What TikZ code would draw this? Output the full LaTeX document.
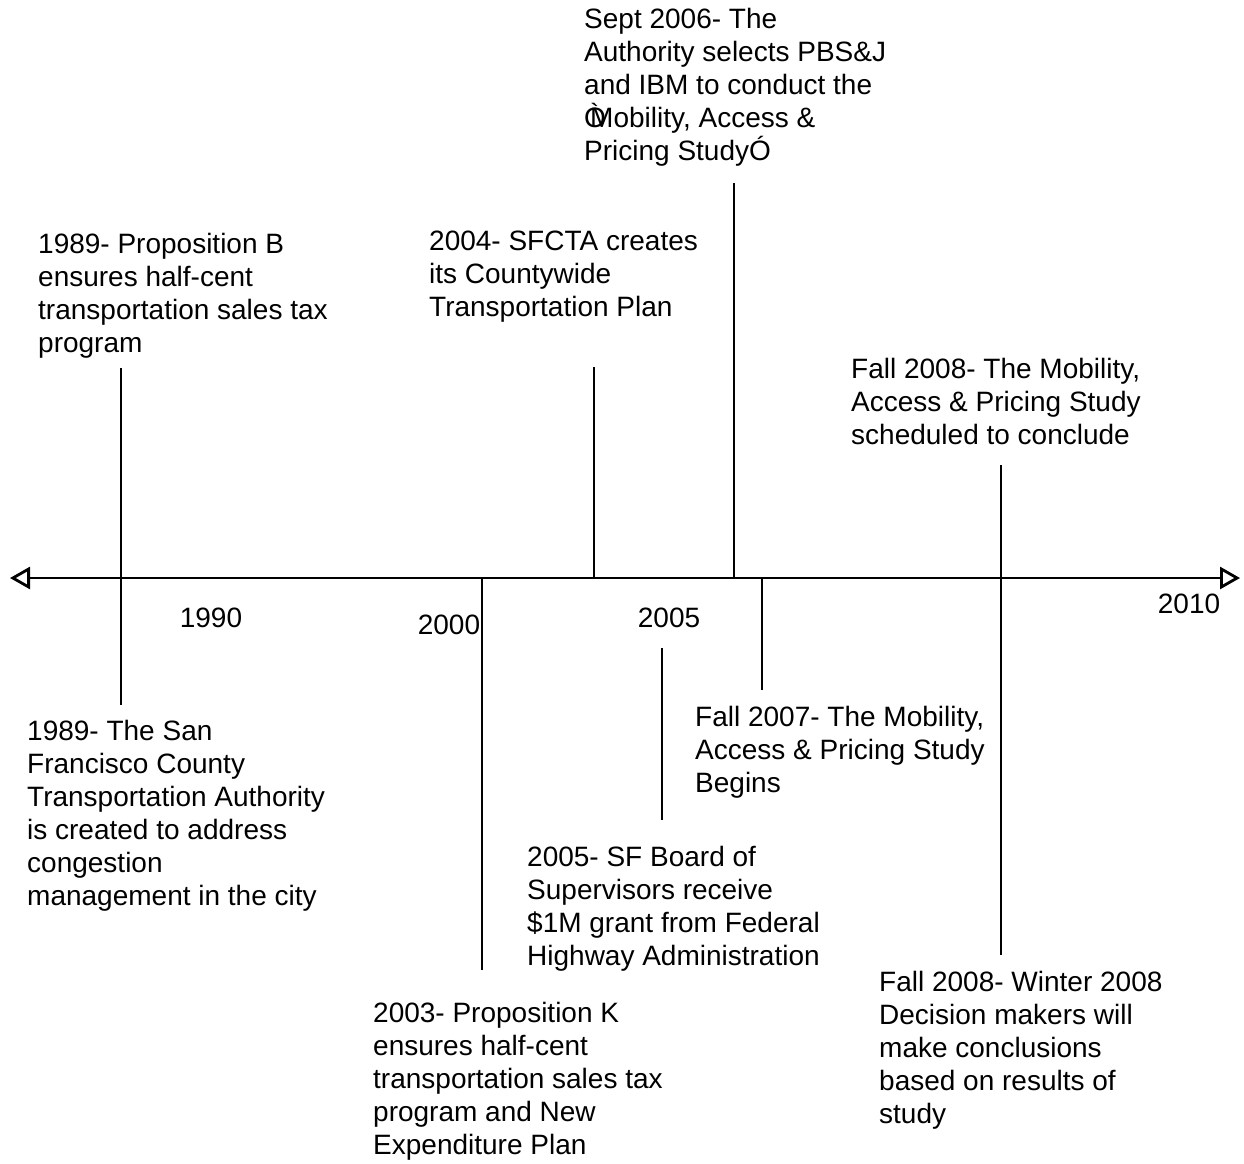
\documentclass[tikz,border=0pt]{standalone}
\usepackage{fontspec}
\setmainfont{Liberation Sans}
\usetikzlibrary{arrows.meta}
\begin{document}
\begin{tikzpicture}[x=1pt,y=-1pt]
    \tikzstyle{event}=[anchor=north west, align=left, inner sep=0pt, font=\fontsize{28}{33}\selectfont]
    \tikzstyle{year}=[inner sep=0pt, font=\fontsize{28}{33}\selectfont]
    \tikzstyle{tick}=[line width=2.8pt]
    \useasboundingbox (0,0) rectangle (1244,1163);

    % time axis
    \coordinate (west) at (10,578);
    \coordinate (east) at (1240,578);
    \draw[line width=2.8pt, {Triangle[open,length=20pt,width=22pt]}-{Triangle[open,length=20pt,width=22pt]}] (west) -- (east);

    \node[year] (y1990) at (211,618) {1990};
    \node[year] (y2000) at (449,625) {2000};
    \node[year] (y2005) at (669,618) {2005};
    \node[year] (y2010) at (1189,604) {2010};

    % events above the axis
    \node[event] (propb) at (38,233) {1989- Proposition B\\ensures half-cent\\transportation sales tax\\program};
    \node[event] (plan) at (429,231) {2004- SFCTA creates\\its Countywide\\Transportation Plan};
    \node[event] (select) at (584,8) {Sept 2006- The\\Authority selects PBS\&J\\and IBM to conduct the\\\rlap{Ò}\hspace*{6pt}Mobility, Access \&\\Pricing StudyÓ};
    \node[event] (conclude) at (851,358) {Fall 2008- The Mobility,\\Access \& Pricing Study\\scheduled to conclude};

    % events below the axis
    \node[event] (sfcta) at (27,720) {1989- The San\\Francisco County\\Transportation Authority\\is created to address\\congestion\\management in the city};
    \node[event] (propk) at (373,1002) {2003- Proposition K\\ensures half-cent\\transportation sales tax\\program and New\\Expenditure Plan};
    \node[event] (grant) at (527,846) {2005- SF Board of\\Supervisors receive\\\$1M grant from Federal\\Highway Administration};
    \node[event] (begins) at (695,706) {Fall 2007- The Mobility,\\Access \& Pricing Study\\Begins};
    \node[event] (decide) at (879,971) {Fall 2008- Winter 2008\\Decision makers will\\make conclusions\\based on results of\\study};

    % ticks
    \coordinate (propb top) at (121,368);
    \coordinate (propb axis) at (121,578);
    \coordinate (sfcta axis) at (121,578);
    \coordinate (sfcta end) at (121,705);
    \coordinate (plan top) at (594,367);
    \coordinate (plan axis) at (594,578);
    \coordinate (select top) at (734,183);
    \coordinate (select axis) at (734,578);
    \coordinate (conclude top) at (1001,465);
    \coordinate (conclude axis) at (1001,578);
    \coordinate (propk axis) at (482,578);
    \coordinate (propk end) at (482,970);
    \coordinate (grant top) at (662,648);
    \coordinate (grant end) at (662,820);
    \coordinate (begins axis) at (762,578);
    \coordinate (begins end) at (762,690);
    \coordinate (decide axis) at (1001,578);
    \coordinate (decide end) at (1001,955);

    \draw[tick] (propb top) -- (propb axis);
    \draw[tick] (sfcta axis) -- (sfcta end);
    \draw[tick] (plan top) -- (plan axis);
    \draw[tick] (select top) -- (select axis);
    \draw[tick] (conclude top) -- (conclude axis);
    \draw[tick] (propk axis) -- (propk end);
    \draw[tick] (grant top) -- (grant end);
    \draw[tick] (begins axis) -- (begins end);
    \draw[tick] (decide axis) -- (decide end);
\end{tikzpicture}
\end{document}
